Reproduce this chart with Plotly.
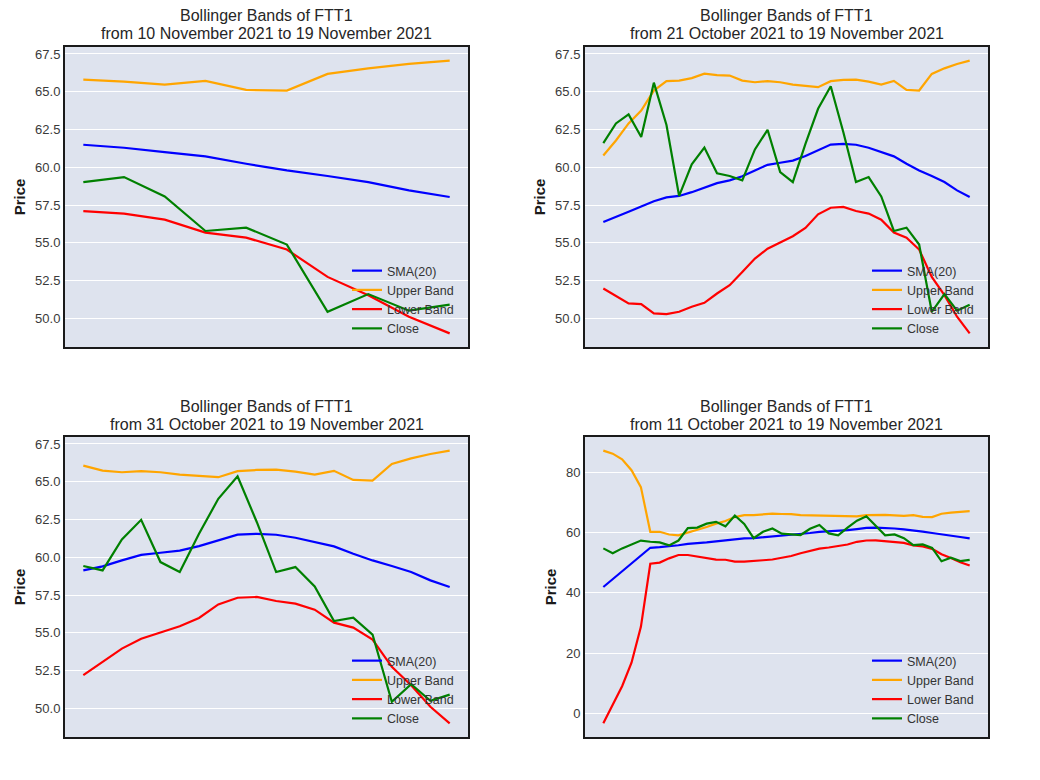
import pandas as pd
import plotly.graph_objects as go

# FTT1 daily values, 11 Oct 2021 .. 19 Nov 2021 (40 days)
dates = pd.date_range("2021-10-11", "2021-11-19", freq="D")

sma20 = [41.9, 44.5, 47.0, 49.4, 52.0, 54.9, 55.1, 55.35, 55.75, 56.2,
         56.38, 56.7, 57.05, 57.4, 57.75, 58.0, 58.1, 58.35, 58.65, 58.95,
         59.13, 59.4, 59.79, 60.16, 60.3, 60.44, 60.74, 61.11, 61.5, 61.55,
         61.49, 61.29, 61.0, 60.72, 60.23, 59.79, 59.42, 59.02, 58.47, 58.03]

upper_band = [87.1, 86.1, 84.2, 80.6, 75.0, 60.2, 60.2, 59.3, 59.0, 59.9,
              60.78, 61.77, 62.9, 63.76, 65.08, 65.7, 65.74, 65.9, 66.2, 66.1,
              66.07, 65.74, 65.63, 65.7, 65.63, 65.47, 65.39, 65.3, 65.7, 65.78,
              65.8, 65.67, 65.47, 65.72, 65.12, 65.08, 66.18, 66.55, 66.84, 67.06]

lower_band = [-3.3, 2.8, 9.0, 16.8, 28.7, 49.6, 50.0, 51.4, 52.5, 52.5,
              51.97, 51.46, 50.98, 50.94, 50.32, 50.28, 50.43, 50.76, 51.02, 51.64,
              52.19, 53.07, 53.95, 54.61, 55.0, 55.43, 55.98, 56.88, 57.32, 57.37,
              57.1, 56.93, 56.53, 55.67, 55.34, 54.55, 52.74, 51.53, 50.1, 49.0]

close = [54.7, 53.1, 54.7, 56.0, 57.3, 56.9, 56.7, 55.7, 57.3, 61.4,
         61.6, 62.9, 63.5, 62.0, 65.6, 62.8, 58.1, 60.2, 61.3, 59.6,
         59.42, 59.13, 61.18, 62.48, 59.68, 59.02, 61.55, 63.87, 65.36, 62.32,
         59.02, 59.35, 58.07, 55.78, 56.0, 54.88, 50.43, 51.6, 50.5, 50.9]

windows = [10, 30, 20, 40]  # days shown in each panel (last N)

series = [
    ("SMA(20)", sma20, "blue"),
    ("Upper Band", upper_band, "orange"),
    ("Lower Band", lower_band, "red"),
    ("Close", close, "green"),
]

W, H = 1040, 780
OFF = 8  # the page body margin shifts the plot div by 8px
# panel boxes in page pixels: left, right, top, bottom
boxes = [(65, 468, 47, 347), (585, 988, 47, 347),
         (65, 468, 437, 737), (585, 988, 437, 737)]


def px_x(p):
    return (p - OFF) / W


def px_y(p):
    return 1 - (p - OFF) / H


FONT = "Liberation Sans, Arial, sans-serif"
fig = go.Figure()
annotations = []

for i, (n, (l, r, t, b)) in enumerate(zip(windows, boxes)):
    k = i + 1
    xs = dates[-n:]
    xa = "x" if k == 1 else f"x{k}"
    ya = "y" if k == 1 else f"y{k}"
    lg = "legend" if k == 1 else f"legend{k}"
    lows, highs = [], []
    for name, vals, color in series:
        v = vals[-n:]
        lows.append(min(v))
        highs.append(max(v))
        fig.add_trace(go.Scatter(x=xs, y=v, mode="lines", name=name,
                                 line=dict(color=color, width=2.2),
                                 xaxis=xa, yaxis=ya, legend=lg))

    ylo, yhi = min(lows), max(highs)
    ypad = 0.05 * (yhi - ylo)
    xpad = 0.05 * (xs[-1] - xs[0])

    fig.update_layout({
        f"xaxis{'' if k == 1 else k}": dict(
            domain=[px_x(l), px_x(r)], anchor=ya, range=[xs[0] - xpad, xs[-1] + xpad],
            showticklabels=False, showgrid=False, zeroline=False, ticks="",
            showline=True, mirror=True, linecolor="#1a1a1a", linewidth=2,
            automargin=False),
        f"yaxis{'' if k == 1 else k}": dict(
            domain=[px_y(b), px_y(t)], anchor=xa, range=[ylo - ypad, yhi + ypad],
            dtick=20 if n == 40 else 2.5, tickformat="d" if n == 40 else ".1f",
            showgrid=True, gridcolor="white", gridwidth=1, zeroline=False,
            ticks="", tickfont=dict(size=13, color="#3a3a3a"),
            showline=True, mirror=True, linecolor="#1a1a1a", linewidth=2,
            title=dict(text="<b>Price</b>", font=dict(size=15, color="#1a1a1a"), standoff=6),
            automargin=False),
        lg: dict(x=px_x(r - 9), y=px_y(b - 4), xanchor="right", yanchor="bottom",
                 bgcolor="rgba(0,0,0,0)", font=dict(size=12.5, color="#333333"),
                 itemwidth=30, tracegroupgap=0),
    })

    title_lines = ["Bollinger Bands of FTT1",
                   f"from {xs[0]:%d %B %Y} to {xs[-1]:%d %B %Y}"]
    for line, dy in zip(title_lines, (31, 13)):
        annotations.append(dict(
            text=line, x=px_x((l + r) / 2), y=px_y(t - dy), xref="paper", yref="paper",
            xanchor="center", yanchor="middle", showarrow=False,
            font=dict(size=16, color="#262626")))

fig.update_layout(
    width=W, height=H,
    margin=dict(l=0, r=0, t=0, b=0),
    paper_bgcolor="white", plot_bgcolor="#dee3ee",
    font=dict(family=FONT, color="#262626"),
    annotations=annotations,
)

fig.write_html("out.html")
